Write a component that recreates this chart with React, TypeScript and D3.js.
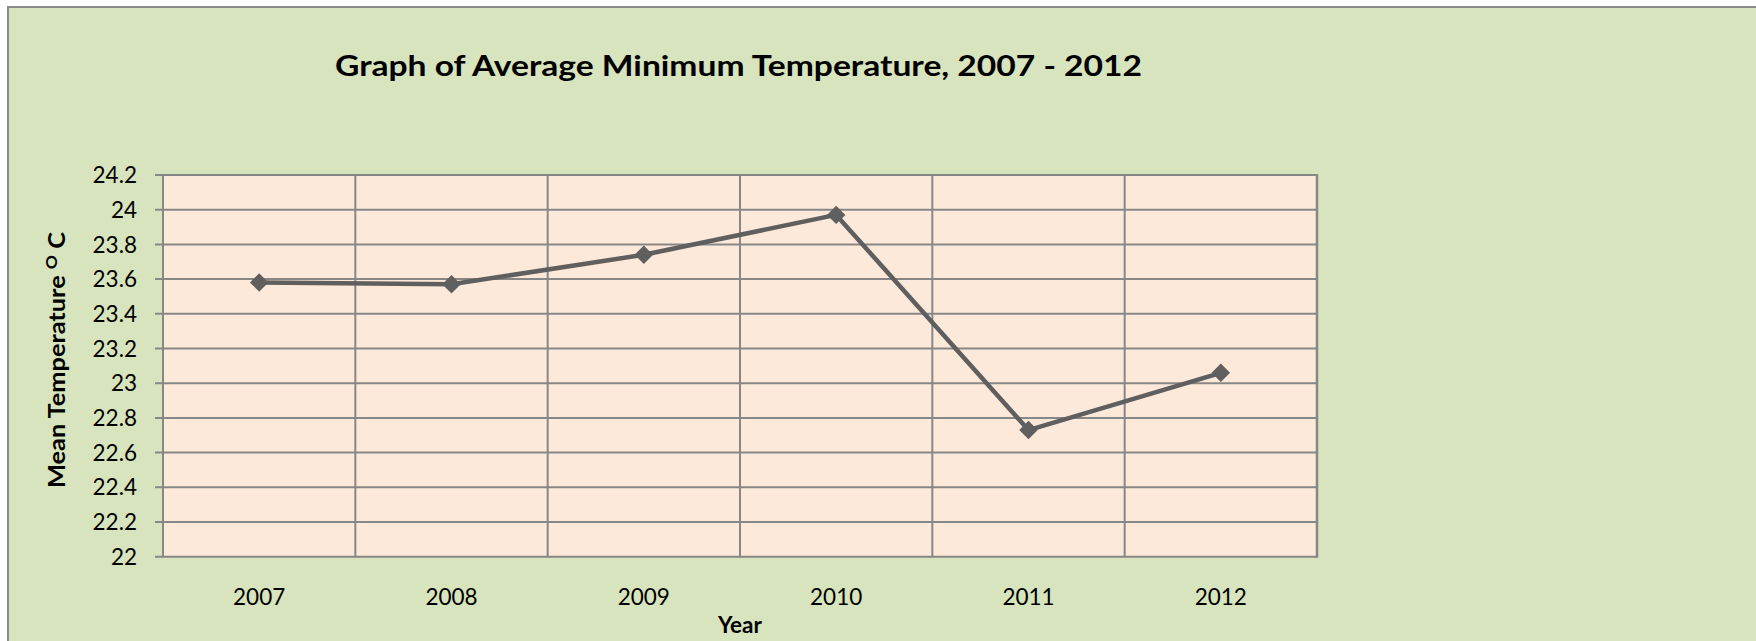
import React from "react";
import * as d3 from "d3";

// values
const years = ["2007", "2008", "2009", "2010", "2011", "2012"];
const minTemps = [23.58, 23.57, 23.74, 23.97, 22.73, 23.06];
const yTicks = [22, 22.2, 22.4, 22.6, 22.8, 23, 23.2, 23.4, 23.6, 23.8, 24, 24.2];

const W = 1756;
const H = 641;
const plot = { left: 163, right: 1317, top: 175, bottom: 556.7 };
const font = "Lato, 'Open Sans', sans-serif";

const App = () => {
    const x = d3.scaleBand().domain(years).range([plot.left, plot.right]).padding(0);
    const y = d3.scaleLinear().domain([22, 24.2]).range([plot.bottom, plot.top]);
    const cx = (d) => x(d) + x.bandwidth() / 2;

    const line = d3.line()
        .x((d, i) => cx(years[i]))
        .y((d) => y(d));

    const diamond = d3.symbol().type(d3.symbolSquare).size(170)();
    const fmt = (v) => String(+v.toFixed(1));

    return (
        <svg width={W} height={H} style={{ position: "absolute", left: 0, top: 0 }}>
            <rect x={0} y={0} width={W} height={H} fill="#ffffff" />
            {/* chart area */}
            <rect x={8} y={7} width={W + 20} height={H + 20} fill="#d7e4bd" stroke="#8a8a8a" strokeWidth={2} />

            <text x={335} y={76} fontFamily={font} fontWeight="bold" fontSize={29} fill="#000"
                textLength={807} lengthAdjust="spacingAndGlyphs">
                Graph of Average Minimum Temperature, 2007 - 2012
            </text>

            {/* plot area */}
            <rect x={plot.left} y={plot.top} width={plot.right - plot.left} height={plot.bottom - plot.top} fill="#fde9d9" />

            {/* horizontal gridlines + ticks */}
            {yTicks.map((t) => (
                <g key={t}>
                    <line x1={plot.left - 8} x2={plot.right} y1={y(t)} y2={y(t)} stroke="#878787" strokeWidth={2} />
                    <text x={137} y={y(t)} dy="0.36em" textAnchor="end" fontFamily={font} fontSize={22.5} fill="#000">
                        {fmt(t)}
                    </text>
                </g>
            ))}

            {/* vertical gridlines at category boundaries */}
            {years.map((yr) => (
                <line key={yr} x1={x(yr)} x2={x(yr)} y1={plot.top} y2={plot.bottom} stroke="#878787" strokeWidth={2} />
            ))}
            <line x1={plot.right} x2={plot.right} y1={plot.top - 1} y2={plot.bottom + 1} stroke="#878787" strokeWidth={2.5} />

            {/* category labels */}
            {years.map((yr) => (
                <text key={yr} x={cx(yr)} y={605} textAnchor="middle" fontFamily={font} fontSize={22.5} fill="#000">
                    {yr}
                </text>
            ))}

            {/* axis titles */}
            <text x={(plot.left + plot.right) / 2} y={633} textAnchor="middle" fontFamily={font} fontWeight="bold" fontSize={22.5} fill="#000">
                Year
            </text>
            <text transform={`translate(65,360) rotate(-90)`} textAnchor="middle"
                fontFamily={font} fontWeight="bold" fontSize={23} fill="#000" textLength={256} lengthAdjust="spacingAndGlyphs">
                Mean Temperature <tspan fontSize={16} dy={-8}>O</tspan><tspan dy={8}> C</tspan>
            </text>

            {/* series */}
            <path d={line(minTemps)} fill="none" stroke="#5f5f5f" strokeWidth={4.5} strokeLinejoin="round" />
            {minTemps.map((v, i) => (
                <path key={i} d={diamond} fill="#5f5f5f"
                    transform={`translate(${cx(years[i])},${y(v)}) rotate(45)`} />
            ))}
        </svg>
    );
};

export default App;
